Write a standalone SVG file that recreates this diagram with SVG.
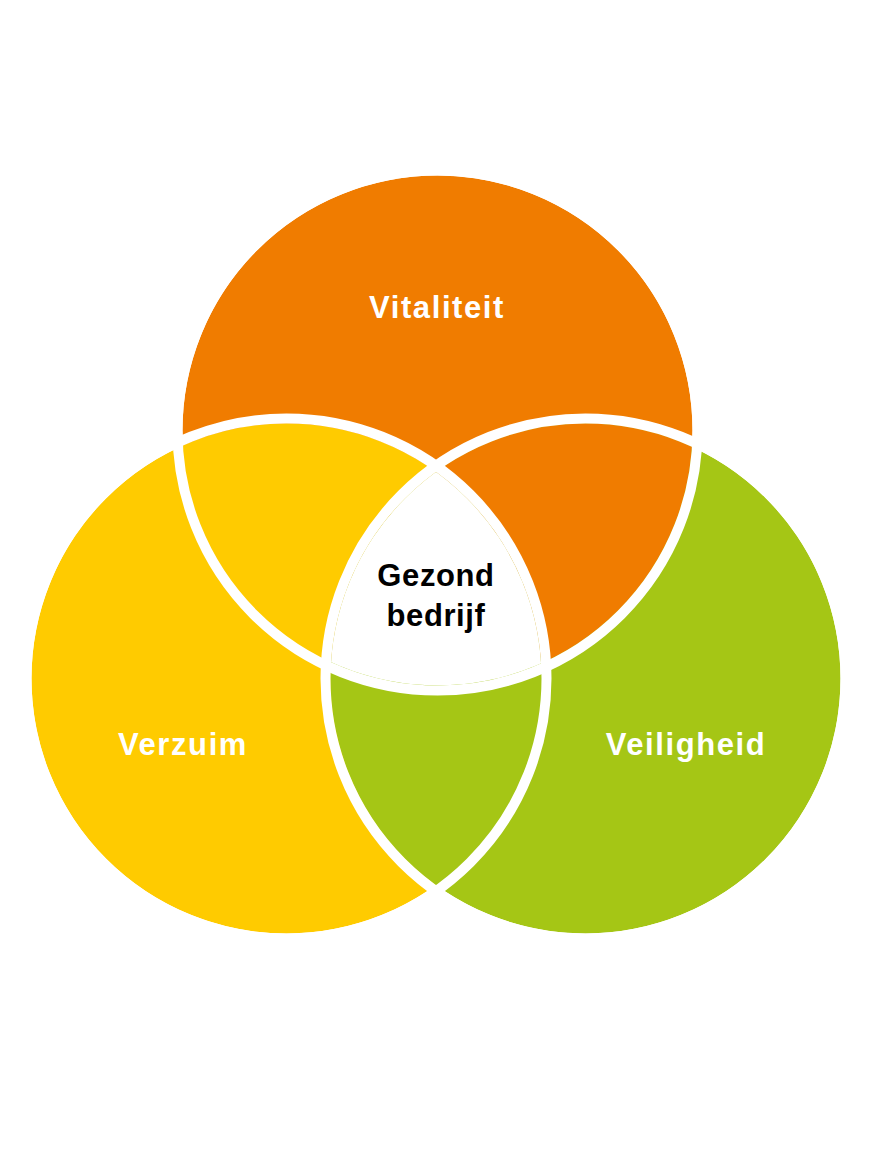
<svg xmlns="http://www.w3.org/2000/svg" width="872" height="1150" viewBox="0 0 872 1150">
<style>
.lbl{font-family:"Liberation Sans",Arial,sans-serif;font-weight:bold;font-size:31px;text-anchor:middle;letter-spacing:1.6px}
.ctr{letter-spacing:0.6px}
.w{fill:#ffffff}
.k{fill:#000000}
.ring{fill:none;stroke:#ffffff;stroke-width:10}
</style>
<defs>
<clipPath id="cT"><circle cx="437.5" cy="430.5" r="255"/></clipPath>
<clipPath id="cL"><circle cx="286.5" cy="678.5" r="255"/></clipPath>
<clipPath id="cR"><circle cx="585.5" cy="678.5" r="255"/></clipPath>
</defs>
<rect width="872" height="1150" fill="#ffffff"/>
<g id="vitaliteit">
<circle cx="437.5" cy="430.5" r="255" fill="#f07c00"/>
</g>
<g id="verzuim">
<circle cx="286.5" cy="678.5" r="255" fill="#ffcb00"/>
</g>
<g id="veiligheid">
<circle cx="585.5" cy="678.5" r="255" fill="#a5c615"/>
</g>
<g id="overlaps">
<circle cx="286.5" cy="678.5" r="255" fill="#ffcb00" clip-path="url(#cT)"/>
<circle cx="437.5" cy="430.5" r="255" fill="#f07c00" clip-path="url(#cR)"/>
<circle cx="585.5" cy="678.5" r="255" fill="#a5c615" clip-path="url(#cL)"/>
<g clip-path="url(#cT)"><g clip-path="url(#cL)"><rect x="0" y="0" width="872" height="1150" fill="#ffffff" clip-path="url(#cR)"/></g></g>
</g>
<g id="connectors">
<circle class="ring" cx="437.5" cy="430.5" r="260"/>
<circle class="ring" cx="286.5" cy="678.5" r="260"/>
<circle class="ring" cx="585.5" cy="678.5" r="260"/>
</g>
<g id="labels">
<text class="lbl w" x="437" y="318">Vitaliteit</text>
<text class="lbl w" x="183" y="755">Verzuim</text>
<text class="lbl w" x="686" y="755">Veiligheid</text>
<g id="gezond-bedrijf">
<text class="lbl k ctr" x="436" y="586">Gezond</text>
<text class="lbl k ctr" x="436" y="626">bedrijf</text>
</g>
</g>
</svg>
